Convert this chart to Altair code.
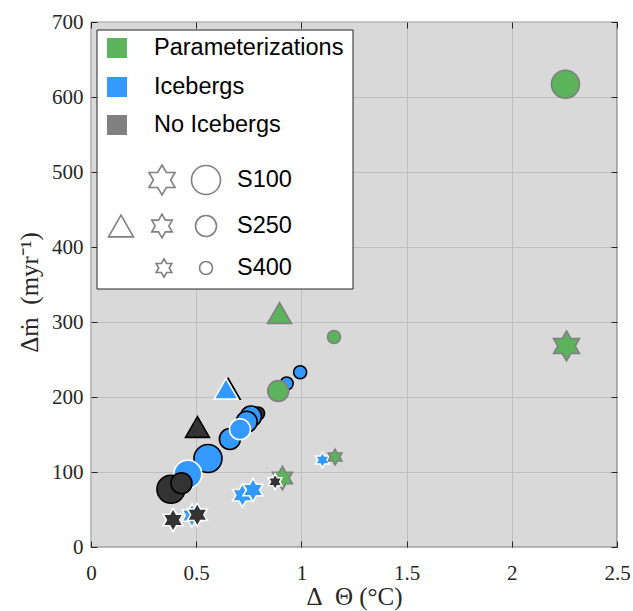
import math
import altair as alt
import pandas as pd

# ---------------- data ----------------
theta = [0.93, 0.89, 0.994, 1.155, 2.255, 0.794, 0.76, 0.74, 0.66, 0.708, 0.556, 0.46, 0.38, 0.43,
         0.652, 0.642, 0.506, 0.896,
         0.72, 0.77, 0.91, 0.875, 1.10, 1.16, 2.26, 0.48, 0.39, 0.505]
dmelt = [218, 208, 233, 280, 617, 178, 174, 167, 144, 157, 118, 97, 77, 85,
         211, 211, 160, 312,
         69, 76, 92, 87, 116, 120, 268, 42, 36, 43]
group = ["Icebergs", "Parameterizations", "Icebergs", "Parameterizations", "Parameterizations",
         "No Icebergs", "Icebergs", "Icebergs", "Icebergs", "Icebergs", "Icebergs", "Icebergs",
         "No Icebergs", "No Icebergs",
         "No Icebergs", "Icebergs", "No Icebergs", "Parameterizations",
         "Icebergs", "Icebergs", "Parameterizations", "No Icebergs", "Icebergs", "Parameterizations",
         "Parameterizations", "Icebergs", "No Icebergs", "No Icebergs"]
marker = ["circle"] * 14 + ["triangle"] * 4 + ["star"] * 10
scenario = ["S400", "S250", "S400", "S400", "S100", "S400", "S250", "S250", "S250", "S250", "S100", "S100",
            "S100", "S250",
            "S250", "S250", "S250", "S250",
            "S250", "S250", "S250", "S400", "S400", "S400", "S100", "S250", "S250", "S250"]
edge = ["black", "grey", "black", "grey", "grey", "black", "black", "black", "black", "white", "black", "white",
        "black", "black",
        "black", "white", "black", "grey",
        "white", "white", "grey", "white", "white", "grey", "grey", "white", "white", "white"]

groups = ["Parameterizations", "Icebergs", "No Icebergs"]
scenarios = ["S100", "S250", "S400"]

# ---------------- styles ----------------
GREEN = "#5bb35b"
BLUE = "#3399ff"
DARK = "#333333"
GREY = "#808080"

# six-pointed star outline in unit coordinates (marker shape)
pts = []
for k in range(12):
    a = math.radians(-90 + 30 * k)
    r = 1.0 if k % 2 == 0 else 1.0 / math.sqrt(3)
    pts.append(f"{r * math.cos(a):.4f},{r * math.sin(a):.4f}")
STAR = "M" + " L".join(pts) + " Z"

# marker area (px^2) per marker type and scenario
marker_area = {"circle|S100": 784, "circle|S250": 441, "circle|S400": 169,
               "triangle|S250": 576,
               "star|S100": 900, "star|S250": 533, "star|S400": 250}

df = pd.DataFrame({"theta": theta, "dmelt": dmelt, "group": group, "marker": marker,
                   "scenario": scenario, "edge": edge})
df["area"] = (df["marker"] + "|" + df["scenario"]).map(marker_area)
df["order"] = range(len(df))

W, H = 526, 525
SERIF = "Liberation Serif"
SANS = "Liberation Sans"

xscale = alt.Scale(domain=[0, 2.5], nice=False, zero=False)
yscale = alt.Scale(domain=[0, 700], nice=False, zero=False)
xticks = [0, 0.5, 1, 1.5, 2, 2.5]
yticks = [0, 100, 200, 300, 400, 500, 600, 700]

main = alt.Chart(df).mark_point(filled=True, opacity=1, strokeWidth=1.6).encode(
    x=alt.X("theta:Q", scale=xscale,
            axis=alt.Axis(values=xticks, format="~g", title="Δ\u2002Θ (°C)", grid=True, ticks=False,
                          tickSize=0, domain=False, labelPadding=15, labelFlush=False, titleY=49,
                          titleBaseline="middle", titleFontWeight="normal")),
    y=alt.Y("dmelt:Q", scale=yscale,
            axis=alt.Axis(values=yticks, title="Δṁ\u2002(myr⁻¹)", grid=True, ticks=False, tickSize=0,
                          domain=False, labelPadding=8, labelFlush=False, titleX=-62, titleY=270,
                          titleBaseline="middle", titleFontWeight="normal")),
    fill=alt.Fill("group:N", scale=alt.Scale(domain=groups, range=[GREEN, BLUE, DARK]), legend=None),
    stroke=alt.Stroke("edge:N", scale=alt.Scale(domain=["black", "white", "grey"],
                                                range=["#000000", "#ffffff", GREY]), legend=None),
    shape=alt.Shape("marker:N", scale=alt.Scale(domain=["circle", "triangle", "star"],
                                                range=["circle", "triangle-up", STAR]), legend=None),
    size=alt.Size("area:Q", scale=None, legend=None),
    order=alt.Order("order:Q"),
)

tick_in = alt.Chart(df).mark_point(opacity=0).encode(
    x=alt.X("theta:Q", scale=xscale,
            axis=alt.Axis(values=xticks, orient="bottom", offset=-6, tickSize=6, labels=False, grid=False,
                          domain=False, title=None)),
    y=alt.Y("dmelt:Q", scale=yscale,
            axis=alt.Axis(values=yticks, orient="left", offset=-6, tickSize=6, labels=False, grid=False,
                          domain=False, title=None)),
)
tick_out = alt.Chart(df).mark_point(opacity=0).encode(
    x=alt.X("theta:Q", scale=xscale,
            axis=alt.Axis(values=xticks, orient="top", offset=-6, tickSize=6, labels=False, grid=False,
                          domain=False, title=None)),
    y=alt.Y("dmelt:Q", scale=yscale,
            axis=alt.Axis(values=yticks, orient="right", offset=-6, tickSize=6, labels=False, grid=False,
                          domain=False, title=None)),
)

# ---------------- custom legend ----------------
one = pd.DataFrame({"a": [0]})
leg = [alt.Chart(one).mark_rect(fill="white", stroke="#262626", strokeWidth=1).encode(
    x=alt.value(6), x2=alt.value(262), y=alt.value(8), y2=alt.value(267))]

LFS = 23.5
group_colors = [GREEN, BLUE, GREY]
group_y = [26, 65, 103]
for lab, col, yy in zip(groups, group_colors, group_y):
    leg.append(alt.Chart(one).mark_point(shape="square", filled=True, fill=col, stroke=col, opacity=1,
                                         size=324).encode(x=alt.value(26), y=alt.value(yy)))
    leg.append(alt.Chart(one).mark_text(align="left", baseline="middle", font=SANS, fontSize=LFS,
                                        color="#000000").encode(
        x=alt.value(63), y=alt.value(yy), text=alt.value(lab)))

scen_y = [158, 204, 246]
star_sizes = [900, 560, 330]
circ_sizes = [841, 441, 169]
star_x = [71, 71, 73]
for lab, yy, ss, cs, sx in zip(scenarios, scen_y, star_sizes, circ_sizes, star_x):
    leg.append(alt.Chart(one).mark_point(shape=STAR, filled=False, stroke=GREY, strokeWidth=1.6, opacity=1,
                                         size=ss).encode(x=alt.value(sx), y=alt.value(yy)))
    leg.append(alt.Chart(one).mark_point(shape="circle", filled=False, stroke=GREY, strokeWidth=1.6, opacity=1,
                                         size=cs).encode(x=alt.value(115), y=alt.value(yy)))
    leg.append(alt.Chart(one).mark_text(align="left", baseline="middle", font=SANS, fontSize=LFS,
                                        color="#000000").encode(
        x=alt.value(146), y=alt.value(yy), text=alt.value(lab)))
leg.append(alt.Chart(one).mark_point(shape="triangle-up", filled=False, stroke=GREY, strokeWidth=1.6, opacity=1,
                                     size=625).encode(x=alt.value(30), y=alt.value(204)))

chart = alt.layer(main, tick_in, tick_out, *leg).resolve_axis(
    x="independent", y="independent"
).properties(
    width=W, height=H,
    padding={"left": 91, "top": 22, "right": 16, "bottom": 64},
    autosize=alt.AutoSizeParams(type="none"),
    background="white",
).configure_view(
    fill="#d9d9d9", stroke="#262626", strokeWidth=1.2
).configure_axis(
    labelFont=SERIF, labelFontSize=21, labelColor="#262626",
    titleFont=SERIF, titleFontSize=25, titleColor="#262626",
    gridColor="#bebebe", gridWidth=1, gridOpacity=1,
    tickColor="#262626", tickWidth=1,
)

chart.save("out.html", embed_options={"renderer": "svg", "actions": False})
